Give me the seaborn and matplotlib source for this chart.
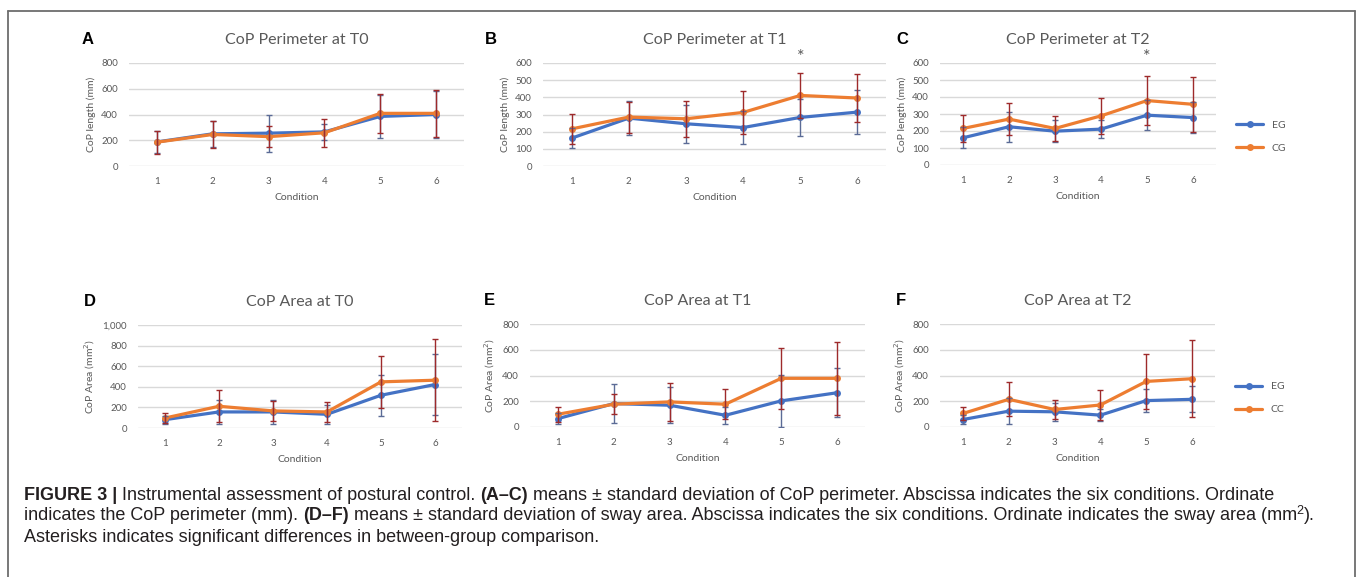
import matplotlib
matplotlib.use("Agg")
import matplotlib.pyplot as plt
import numpy as np
import seaborn as sns
from matplotlib.lines import Line2D

sns.set_style("white")
plt.rcParams['font.family'] = ['Lato', 'DejaVu Sans']

conditions = [1, 2, 3, 4, 5, 6]

# CoP perimeter (mm), means and SD
perim_t0_eg = [187, 250, 255, 265, 385, 400]
perim_t0_eg_sd = [88, 100, 143, 60, 165, 185]
perim_t0_cg = [185, 245, 228, 258, 409, 409]
perim_t0_cg_sd = [90, 108, 80, 110, 150, 180]

perim_t1_eg = [162, 279, 246, 224, 283, 314]
perim_t1_eg_sd = [60, 100, 110, 95, 110, 130]
perim_t1_cg = [216, 285, 275, 312, 411, 396]
perim_t1_cg_sd = [88, 90, 105, 125, 130, 140]

perim_t2_eg = [160, 225, 199, 211, 293, 279]
perim_t2_eg_sd = [62, 88, 65, 55, 88, 90]
perim_t2_cg = [215, 270, 215, 289, 379, 357]
perim_t2_cg_sd = [80, 95, 75, 105, 145, 160]

# CoP area (mm2)
area_t0_eg = [81, 156, 156, 133, 318, 422]
area_t0_eg_sd = [40, 120, 120, 90, 200, 300]
area_t0_cg = [97, 211, 166, 156, 448, 464]
area_t0_cg_sd = [45, 156, 100, 100, 255, 400]

area_t1_eg = [65, 182, 169, 91, 203, 266]
area_t1_eg_sd = [40, 150, 138, 65, 200, 190]
area_t1_cg = [99, 177, 195, 177, 378, 378]
area_t1_cg_sd = [57, 76, 150, 117, 236, 286]

area_t2_eg = [58, 123, 118, 92, 205, 215]
area_t2_eg_sd = [37, 102, 70, 47, 92, 100]
area_t2_cg = [105, 215, 136, 171, 354, 375]
area_t2_cg_sd = [52, 131, 70, 118, 216, 300]

panels = [
    ("A", "CoP Perimeter at T0", "CoP length (mm)", perim_t0_eg, perim_t0_eg_sd, perim_t0_cg, perim_t0_cg_sd, 800, 200, False, None),
    ("B", "CoP Perimeter at T1", "CoP length (mm)", perim_t1_eg, perim_t1_eg_sd, perim_t1_cg, perim_t1_cg_sd, 600, 100, True, None),
    ("C", "CoP Perimeter at T2", "CoP length (mm)", perim_t2_eg, perim_t2_eg_sd, perim_t2_cg, perim_t2_cg_sd, 600, 100, True, ["EG", "CG"]),
    ("D", "CoP Area at T0", "CoP Area (mm$^2$)", area_t0_eg, area_t0_eg_sd, area_t0_cg, area_t0_cg_sd, 1000, 200, False, None),
    ("E", "CoP Area at T1", "CoP Area (mm$^2$)", area_t1_eg, area_t1_eg_sd, area_t1_cg, area_t1_cg_sd, 800, 200, False, None),
    ("F", "CoP Area at T2", "CoP Area (mm$^2$)", area_t2_eg, area_t2_eg_sd, area_t2_cg, area_t2_cg_sd, 800, 200, False, ["EG", "CC"]),
]

# axes boxes in pixels: left, right, top, bottom, letter x
boxes = [
    (129, 464, 63, 166, 82),
    (543, 886, 63, 166, 485),
    (940, 1216, 63, 165, 896),
    (138, 462, 325, 428, 84),
    (530, 865, 324, 427, 484),
    (940, 1215, 324, 427, 896),
]

W, H = 1357, 577
fig = plt.figure(figsize=(W / 100, H / 100), dpi=100)

blue = "#4472C4"
orange = "#ED7D31"
blue_err = "#5b6b96"
orange_err = "#9e2a2b"
grey = "#595959"

for (letter, title, ylab, eg, eg_sd, cg, cg_sd, ymax, ystep, star, leg), (l, r, t, b, lx) in zip(panels, boxes):
    ax = fig.add_axes([l / W, 1 - b / H, (r - l) / W, (b - t) / H])
    sns.lineplot(x=conditions, y=eg, ax=ax, color=blue, lw=2.3, marker="o",
                 markersize=5, markeredgewidth=0, label=leg[0] if leg else None, zorder=3)
    sns.lineplot(x=conditions, y=cg, ax=ax, color=orange, lw=2.3, marker="o",
                 markersize=5, markeredgewidth=0, label=leg[1] if leg else None, zorder=4)
    ax.errorbar(conditions, eg, yerr=eg_sd, fmt="none", ecolor=blue_err, elinewidth=1,
                capsize=2.5, capthick=1, zorder=5)
    ax.errorbar(conditions, cg, yerr=cg_sd, fmt="none", ecolor=orange_err, elinewidth=1,
                capsize=2.5, capthick=1, zorder=6)
    ax.set_xlim(0.5, 6.5)
    ax.set_ylim(0, ymax)
    ax.set_yticks(np.arange(0, ymax + 1, ystep))
    if ymax >= 1000:
        ax.set_yticklabels([f"{v:,}" for v in np.arange(0, ymax + 1, ystep)])
    ax.set_xticks(conditions)
    ax.yaxis.grid(True, color="#d9d9d9", lw=1)
    ax.set_axisbelow(True)
    for s in ax.spines.values():
        s.set_visible(False)
    ax.tick_params(axis="both", length=0, labelsize=7, labelcolor=grey, pad=8)
    ax.set_xlabel("Condition", fontsize=7.5, color=grey, labelpad=5)
    ax.set_ylabel(ylab, fontsize=7.5, color=grey, labelpad=4)
    ax.set_title(title, fontsize=11.5, color=grey, pad=14)
    fig.text(lx / W, 1 - (t - 24) / H, letter, fontsize=12, weight="bold",
             family="Liberation Sans", color="black", va="center")
    if star:
        ax.text(5, ymax * 1.06, "*", ha="center", va="center", fontsize=13, color=grey)
    if leg:
        ax.legend(loc="center left", bbox_to_anchor=(1.04, 0.28), frameon=False,
                  fontsize=7.5, handlelength=2.6, labelspacing=1.3, labelcolor=grey)
    elif ax.get_legend():
        ax.get_legend().remove()

# frame around the figure panel
fig.add_artist(Line2D([8 / W, 1355 / W], [1 - 11 / H, 1 - 11 / H], color="#6d6d6d", lw=1.3))
fig.add_artist(Line2D([8 / W, 8 / W], [1 - 11 / H, 0], color="#6d6d6d", lw=1.3))
fig.add_artist(Line2D([1355 / W, 1355 / W], [1 - 11 / H, 0], color="#6d6d6d", lw=1.3))

# caption with mixed weights
fs = 13.0
caption = [
    [("FIGURE 3 | ", "bold", 0, fs), ("Instrumental assessment of postural control. ", "normal", 0, fs),
     ("(A\u2013C)", "bold", 0, fs),
     (" means \u00b1 standard deviation of CoP perimeter. Abscissa indicates the six conditions. Ordinate", "normal", 0, fs)],
    [("indicates the CoP perimeter (mm). ", "normal", 0, fs), ("(D\u2013F)", "bold", 0, fs),
     (" means \u00b1 standard deviation of sway area. Abscissa indicates the six conditions. Ordinate indicates the sway area (mm", "normal", 0, fs),
     ("2", "normal", 5, 9), (").", "normal", 0, fs)],
    [("Asterisks indicates significant differences in between-group comparison.", "normal", 0, fs)],
]
line_y = [495, 516, 537]

fig.canvas.draw()
renderer = fig.canvas.get_renderer()
for parts, yy in zip(caption, line_y):
    x = 24
    for txt, weight, dy, size in parts:
        tt = fig.text(x / W, 1 - (yy - dy) / H, txt, fontsize=size, weight=weight,
                      family="Liberation Sans", color="#231f20", va="center")
        x += tt.get_window_extent(renderer).width

fig.savefig("out.png", dpi=100)
